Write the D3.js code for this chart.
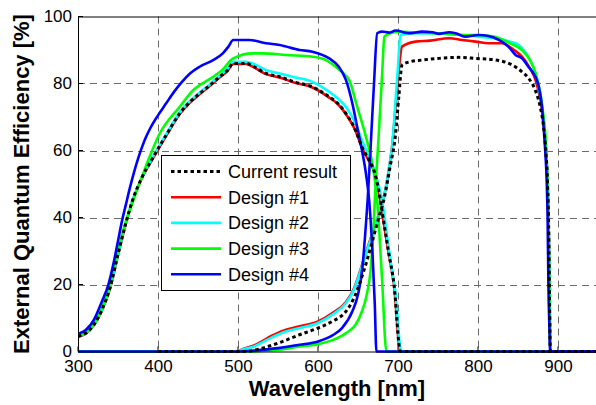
<!DOCTYPE html>
<html>
<head>
<meta charset="utf-8">
<script src="https://cdn.jsdelivr.net/npm/d3@7"></script>
<style>
  html, body { margin: 0; padding: 0; background: #fff; }
  svg { display: block; }
  text { font-family: "Liberation Sans", Arial, sans-serif; }
</style>
</head>
<body>
<svg id="chart" width="596" height="405"></svg>
<script>
// ---------- data ----------
const seriesNames = ["Current result", "Design #1", "Design #2", "Design #3", "Design #4"];
const seriesColors = ["#000000", "#ff0000", "#00ffff", "#00ff00", "#0000ff"];
const xTicks = [300, 400, 500, 600, 700, 800, 900];
const yTicks = [0, 20, 40, 60, 80, 100];

// top sub-cell EQE [wavelength nm, EQE %]
const currentTop = [[300,4.5],[310,5.5],[320,8],[330,12.5],[340,19],[350,29],[360,38.5],[368,45],[380,52],[394,58],[410,64.5],[427,71],[440,74.5],[452,77],[465,79.5],[477,82],[487,84],[494,86],[510,86],[520,85],[535,83],[552,82],[570,80.5],[593,79],[614,76],[625,74],[635,71],[647,66],[655,61],[664,57],[670,54],[676,48],[680,42],[688,30],[695,20],[703,0],[950,0]];
const design1Top = [[300,4.4],[310,5.4],[320,7.9],[330,12.3],[340,18.8],[350,28.8],[360,38.3],[368,44.8],[380,51.8],[394,57.8],[410,64.3],[427,70.8],[440,74.3],[452,76.8],[465,79.3],[477,81.8],[487,83.8],[494,85.8],[510,85.8],[520,84.8],[535,82.8],[552,81.8],[570,80.3],[593,78.8],[614,75.8],[625,73.8],[635,70.8],[647,65.8],[655,60.8],[664,56.8],[670,53.8],[676,47.8],[680,41.8],[688,29.8],[695,19.8],[703,0],[950,0]];
const design2Top = [[300,4.5],[310,5.5],[320,8],[330,12.5],[340,19],[350,29],[360,38.5],[368,45],[380,52],[394,58.3],[410,64.8],[427,71.3],[440,74.8],[452,77.3],[465,79.8],[477,82.3],[487,84.5],[494,86.5],[510,86.5],[520,85.8],[535,84],[552,83],[568,82],[593,80.5],[614,77.5],[625,75.5],[635,73],[647,68],[655,63],[664,58],[672,53],[680,45],[690,28],[697,17],[704,0],[950,0]];
const design3Top = [[300,4.5],[310,5.7],[320,8.2],[330,13],[340,20],[350,30],[360,39],[369,45],[386,56],[402,65],[427,73],[444,78],[469,82],[480,84],[494,87.5],[518,89],[531,89],[560,88.5],[593,88],[610,87],[622,85],[632,83],[639,81],[649,73],[660,64],[668,56],[674,45],[680,22],[685.5,0],[950,0]];
const design4Top = [[300,5.3],[310,6.5],[320,9.5],[330,15],[338,20],[345,27],[350,33],[355,39],[360,44],[365,49],[370,53.5],[375,57.5],[380,61],[385,64],[390,66.5],[400,70.5],[410,74],[420,77.5],[430,80.5],[440,83],[452,85],[469,87],[481,89],[488,91],[494,93],[514,93],[535,92],[552,91.5],[577,90],[593,89.5],[614,87.5],[626,85],[635,81],[643,74],[649,67],[655,60],[660,53],[664,45],[668,30],[671,14],[673,0],[950,0]];

// bottom sub-cell EQE [wavelength nm, EQE %]
const currentBottom = [[400,0],[510,0],[530,1],[550,2.5],[577,5],[600,7],[618,9],[635,12],[645,16],[653,21],[661,27],[668,33],[676,40],[683,46],[690,55],[697,65],[701,76],[705,85.5],[715,86.5],[730,87],[751,87.5],[776,87.8],[797,87.5],[822,87],[843,85.5],[855,83.5],[863.5,81.5],[871.6,78],[877.8,73],[882,67],[885,59],[887,50],[888.5,35],[889.5,15],[890.5,0],[950,0]];
const design1Bottom = [[300,0],[500,0],[505,0.6],[520,1.8],[543,4.8],[560,6.5],[577,7.5],[600,9],[618,11.5],[635,14.8],[645,18.8],[653,24.3],[661,30.3],[668,35.3],[676,41],[684,48],[689,55],[693,62],[697,73],[701,84],[705,91],[722,92.5],[740,92.8],[764,93.5],[780,93],[797,92.5],[813,92],[830,92],[845,90],[855,88],[865,84.5],[872,81],[878,75],[882,68],[885,60],[887,50],[888.5,35],[889.5,15],[890.5,0],[950,0]];
const design2Bottom = [[300,0],[500,0],[505,0.5],[520,1.5],[543,4.3],[560,6],[577,7],[600,8.5],[618,11],[635,14.5],[645,18.5],[653,24],[661,30],[668,35],[676,41],[684,48],[689,55],[693,62],[697,75],[700,85],[703,94.5],[720,95],[750,95],[780,94.5],[800,94],[820,93.5],[840,92.5],[851,91.5],[860,89],[866,86.5],[872,83],[878,76],[882,69],[885,60],[887,50],[888.5,35],[889.5,15],[890.5,0],[950,0]];
const design3Bottom = [[300,0],[510,0],[550,0.5],[577,1.5],[600,2.2],[618,3.4],[635,5.5],[647,8],[655,12],[660,16],[666,25],[669,35],[671,45],[676,65],[680,82],[683,94],[690,95],[700,95.5],[720,95.2],[750,95],[780,94.5],[800,94.5],[820,94],[840,92],[855,90],[865,87],[872,83],[878,77],[882,70],[885,62],[887,50],[888.5,35],[889.5,15],[890.5,0],[950,0]];
const design4Bottom = [[300,0],[500,0],[520,0.3],[550,1],[577,2],[600,3],[618,4.8],[630,7],[643,12],[650,17],[655.5,25],[659,35],[662,45],[666,62],[670,80],[674,95],[680,95.5],[689,95.2],[697,95.8],[714,95],[730,95.5],[743,95.3],[751,94.8],[764,95.3],[772,95],[784,94],[801,94.5],[813,94.2],[826,93],[838,91],[847,88.5],[855,87.5],[863,85],[868,83.5],[876,79],[880,73],[882,67],[884,60],[886,50],[887,40],[888,20],[889.5,5],[890,0],[950,0]];

const topCurves = [currentTop, design1Top, design2Top, design3Top, design4Top];
const bottomCurves = [currentBottom, design1Bottom, design2Bottom, design3Bottom, design4Bottom];

// ---------- layout ----------
const svg = d3.select("#chart");
const pL = 78, pR = 598, pT = 16.5, pB = 351.5;
const x = d3.scaleLinear().domain([300, 950]).range([pL, pR]);
const y = d3.scaleLinear().domain([0, 100]).range([pB, pT]);

svg.append("defs").append("clipPath").attr("id", "plotclip")
  .append("rect").attr("x", pL).attr("y", pT - 3).attr("width", pR - pL).attr("height", pB - pT + 6);

// grid
const grid = svg.append("g").attr("stroke", "#6b6b6b").attr("stroke-width", 1).attr("stroke-dasharray", "7,5");
grid.selectAll("line.vx").data(xTicks.filter(d => d > 300)).join("line")
  .attr("x1", d => Math.round(x(d)) + 0.5).attr("x2", d => Math.round(x(d)) + 0.5)
  .attr("y1", pT).attr("y2", pB);
grid.selectAll("line.hy").data(yTicks.filter(d => d > 0 && d < 100)).join("line")
  .attr("y1", d => Math.round(y(d)) + 0.5).attr("y2", d => Math.round(y(d)) + 0.5)
  .attr("x1", pL).attr("x2", pR);

// axes
const xAxis = d3.axisBottom(x).tickValues(xTicks).tickSize(0).tickPadding(8).tickFormat(d3.format("d"));
const yAxis = d3.axisLeft(y).tickValues(yTicks).tickSize(0).tickPadding(6).tickFormat(d3.format("d"));
const gx = svg.append("g").attr("transform", `translate(0,${pB})`).call(xAxis);
const gy = svg.append("g").attr("transform", `translate(${pL},0)`).call(yAxis);
[gx, gy].forEach(g => {
  g.select(".domain").remove();
  g.selectAll("text").attr("font-size", 17).attr("fill", "#000")
    .attr("font-family", "'Liberation Sans', Arial, sans-serif");
});
gx.selectAll("text").attr("dy", null).attr("y", 20);
gy.selectAll("text").attr("dy", "0.3em");
// small inward ticks
svg.append("g").selectAll("line").data(xTicks).join("line")
  .attr("x1", d => x(d)).attr("x2", d => x(d)).attr("y1", pB).attr("y2", pB - 5)
  .attr("stroke", "#000");
svg.append("g").selectAll("line").data(yTicks).join("line")
  .attr("x1", pL).attr("x2", pL + 5).attr("y1", d => y(d)).attr("y2", d => y(d))
  .attr("stroke", "#000");

// curves
const line = d3.line().x(d => x(d[0])).y(d => y(d[1])).curve(d3.curveMonotoneX);
const plot = svg.append("g").attr("clip-path", "url(#plotclip)");
const order = [1, 2, 3, 4, 0];
order.forEach(i => {
  [topCurves[i], bottomCurves[i]].forEach(c => {
    const p = plot.append("path").datum(c).attr("d", line)
      .attr("fill", "none").attr("stroke", seriesColors[i])
      .attr("stroke-linejoin", "round");
    if (i === 0) p.attr("stroke-width", 3).attr("stroke-dasharray", "3.5,3");
    else p.attr("stroke-width", 2.6);
  });
});

// frame
svg.append("path")
  .attr("d", `M${pR + 5},${pT + 0.5}H${pL + 0.5}V${pB + 0.5}H${pR + 5}`)
  .attr("fill", "none").attr("stroke", "#000").attr("stroke-width", 1);

// axis labels
svg.append("text").attr("x", 337).attr("y", 395.5).attr("text-anchor", "middle")
  .attr("font-size", 22).attr("font-weight", "bold").text("Wavelength [nm]");
svg.append("text").attr("transform", `translate(29,184) rotate(-90)`).attr("text-anchor", "middle")
  .attr("font-size", 22).attr("font-weight", "bold").text("External Quantum Efficiency [%]");

// legend
const lg = svg.append("g");
lg.append("rect").attr("x", 161.5).attr("y", 155.5).attr("width", 189).attr("height", 135)
  .attr("fill", "#fff").attr("stroke", "#000").attr("stroke-width", 1);
const ly = i => 171.5 + i * 25.7;
seriesNames.forEach((name, i) => {
  const l = lg.append("line").attr("x1", 171).attr("x2", 221).attr("y1", ly(i)).attr("y2", ly(i))
    .attr("stroke", seriesColors[i]);
  if (i === 0) l.attr("stroke-width", 3).attr("stroke-dasharray", "3.5,3");
  else l.attr("stroke-width", 2.6);
  lg.append("text").attr("x", 228).attr("y", ly(i)).attr("dy", "0.35em")
    .attr("font-size", 18).text(name);
});
</script>
</body>
</html>
